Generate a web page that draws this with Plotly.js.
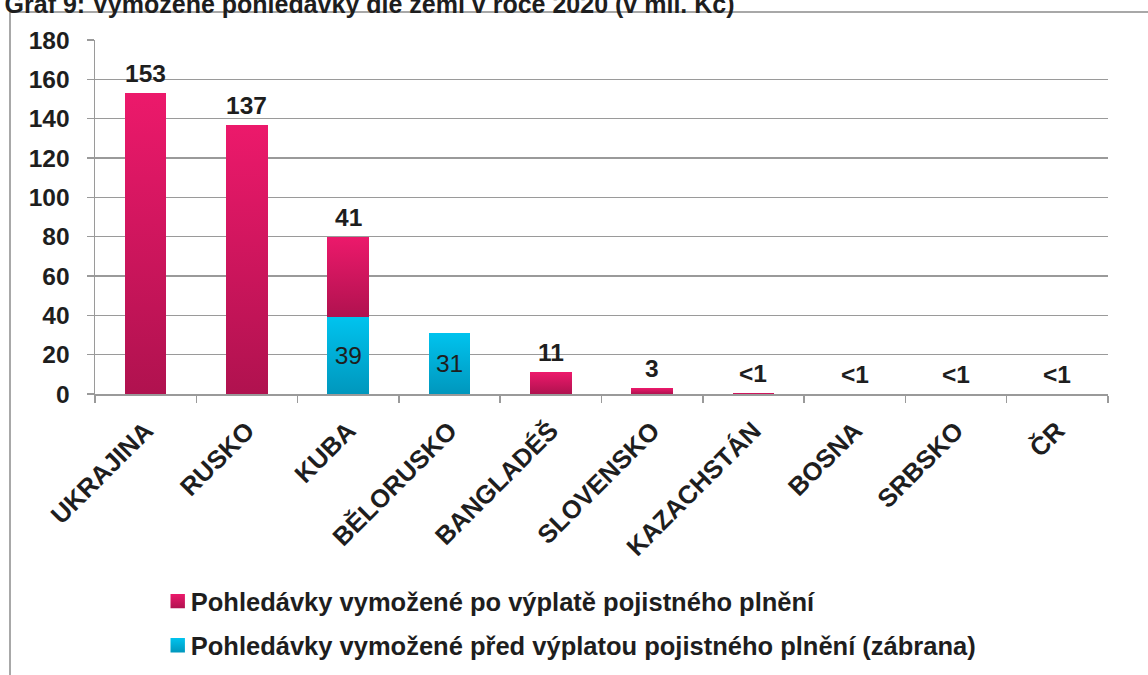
<!DOCTYPE html>
<html>
<head>
<meta charset="utf-8">
<script src="https://cdn.plot.ly/plotly-3.0.1.min.js"></script>
<style>
  html, body { margin: 0; padding: 0; background: #fff; }
  #graf { width: 1148px; height: 675px; }
</style>
</head>
<body>
<svg width="0" height="0" style="position:absolute">
  <defs>
    <linearGradient id="gradRuzova" x1="0" y1="0" x2="0" y2="1">
      <stop offset="0" stop-color="#ec196b"/>
      <stop offset="1" stop-color="#b0124f"/>
    </linearGradient>
    <linearGradient id="gradModra" x1="0" y1="0" x2="0" y2="1">
      <stop offset="0" stop-color="#00c3ee"/>
      <stop offset="1" stop-color="#0097bd"/>
    </linearGradient>
  </defs>
</svg>
<div id="graf"></div>
<script>
// Graf 9 — vymožené pohledávky dle zemí (mil. Kč)
const zeme = ['UKRAJINA', 'RUSKO', 'KUBA', 'BĚLORUSKO', 'BANGLADÉŠ', 'SLOVENSKO', 'KAZACHSTÁN', 'BOSNA', 'SRBSKO', 'ČR'];
const poVyplate = [153, 137, 41, 0, 11, 3, 0.5, 0.1, 0.1, 0.1];
const predVyplatou = [0, 0, 39, 31, 0, 0, 0, 0, 0, 0];
const popiskyNahore = ['153', '137', '41', '', '11', '3', '<1', '<1', '<1', '<1'];
const popiskyUvnitr = ['', '', '39', '31', '', '', '', '', '', ''];

const PISMO = 'Liberation Sans, Arial, sans-serif';
const TEXT = '#1e1e1e';
const SEDA = '#9a9a9a';
const VEL = 24.5;

const traceModra = {
  x: zeme,
  y: predVyplatou,
  name: 'Pohledávky vymožené před výplatou pojistného plnění (zábrana)',
  type: 'bar',
  legendgroup: 'b',
  legendrank: 2,
  marker: { color: '#00aed8' },
  text: popiskyUvnitr,
  textposition: 'inside',
  insidetextanchor: 'middle',
  textfont: { family: PISMO, size: VEL, color: TEXT },
  hoverinfo: 'x+y',
};

const traceRuzova = {
  x: zeme,
  y: poVyplate,
  name: 'Pohledávky vymožené po výplatě pojistného plnění',
  type: 'bar',
  legendgroup: 'a',
  legendrank: 1,
  marker: { color: '#d0165e' },
  hoverinfo: 'x+y',
};

// popisky nad sloupci (součet)
const anotace = zeme.map((z, i) => ({
  x: z,
  y: poVyplate[i] + predVyplatou[i],
  text: '<b>' + popiskyNahore[i].replace('<', '&lt;') + '</b>',
  showarrow: false,
  yanchor: 'bottom',
  yshift: 4,
  font: { family: PISMO, size: VEL, color: TEXT },
}));

// rámeček grafu (plocha grafu je 95..1108 x 40..394 px)
const ramecek = {
  type: 'rect', xref: 'paper', yref: 'paper',
  x0: (10 - 95) / 1013, x1: (1160 - 95) / 1013,
  y0: -(300 / 354), y1: 1 + 28 / 354,
  line: { color: '#8c8c8c', width: 1.5 },
  fillcolor: 'rgba(0,0,0,0)',
  layer: 'below',
};

const layout = {
  width: 1148,
  height: 675,
  paper_bgcolor: '#fff',
  plot_bgcolor: '#fff',
  font: { family: PISMO, size: VEL, color: TEXT },
  margin: { l: 95, r: 40, t: 40, b: 281, autoexpand: false },
  barmode: 'stack',
  bargap: 0.59,
  title: {
    text: '<b>Graf 9: Vymožené pohledávky dle zemí v roce 2020 (v mil. Kč)</b>',
    font: { family: PISMO, size: 25, color: TEXT },
    x: 0.004, xanchor: 'left', xref: 'container',
    y: 1 - 13 / 675, yanchor: 'bottom', yref: 'container',
  },
  xaxis: {
    type: 'category',
    tickangle: -45,
    tickfont: { family: PISMO, size: 25.5, color: TEXT, weight: 'bold' },
    showline: true, linecolor: SEDA, linewidth: 1.5,
    ticks: 'outside', tickson: 'boundaries', ticklen: 7, tickcolor: SEDA, tickwidth: 1.5,
    ticklabelstandoff: 10,
    showgrid: false,
  },
  yaxis: {
    range: [0, 180], dtick: 20,
    tickfont: { family: PISMO, size: VEL, color: TEXT, weight: 'bold' },
    showline: true, linecolor: SEDA, linewidth: 1.5,
    ticks: 'outside', ticklen: 7, tickcolor: SEDA, tickwidth: 1.5,
    ticklabelstandoff: 12,
    gridcolor: SEDA, gridwidth: 1.5,
    zeroline: false,
  },
  annotations: anotace,
  shapes: [ramecek],
  showlegend: true,
  legend: {
    x: 0.055, xanchor: 'left',
    y: -0.52, yanchor: 'top',
    traceorder: 'grouped',
    tracegroupgap: 8,
    font: { family: PISMO, size: 25.5, color: TEXT, weight: 'bold' },
    itemwidth: 30,
    bgcolor: 'rgba(0,0,0,0)',
  },
};

const el = document.getElementById('graf');

function prechody() {
  // svislý přechod barvy v každém sloupci jako v originále
  el.querySelectorAll('.barlayer .trace').forEach((t, i) => {
    const id = i === 0 ? 'gradModra' : 'gradRuzova';
    t.querySelectorAll('path').forEach(p => { p.style.fill = 'url(#' + id + ')'; });
  });
  el.querySelectorAll('.legend .traces').forEach(t => {
    const id = t.textContent.indexOf('před') >= 0 ? 'gradModra' : 'gradRuzova';
    const body = t.querySelector('.legendpoints');
    if (body) body.setAttribute('transform', 'translate(3,0) scale(1.2)');
    t.querySelectorAll('.legendpoints path').forEach(p => { p.style.fill = 'url(#' + id + ')'; });
  });
}

Plotly.newPlot(el, [traceModra, traceRuzova], layout, { displayModeBar: false, staticPlot: true })
  .then(prechody);
</script>
</body>
</html>
